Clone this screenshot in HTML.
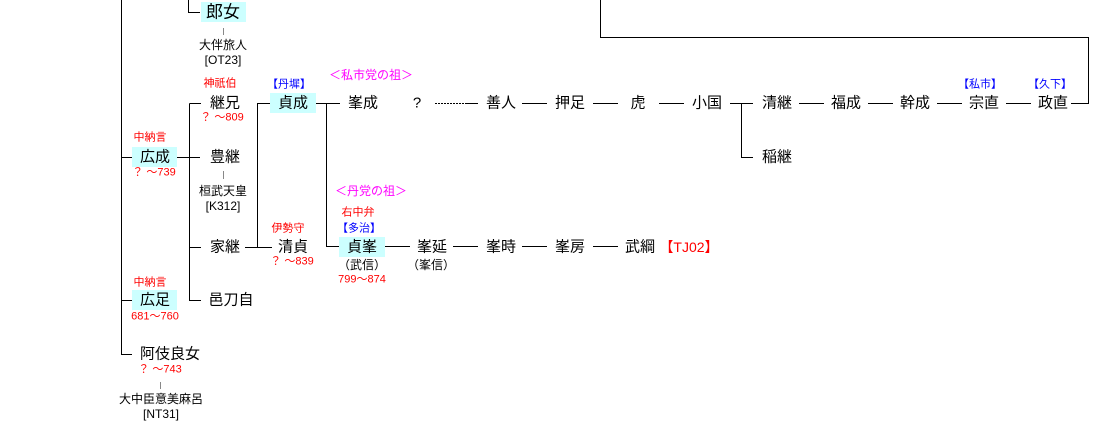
<!DOCTYPE html>
<html><head><meta charset="utf-8"><style>
body{margin:0;width:1094px;height:447px;background:#fff;position:relative;overflow:hidden;font-family:"Liberation Sans","Noto Sans CJK JP",sans-serif;}
.t{position:absolute;transform:translate(-50%,-50%);white-space:nowrap;font-size:15px;color:#000;line-height:1;}
.s{font-size:11px;}
.r{color:#f00;}.b{color:#00f;}.m{color:#f0f;}
.bx{position:absolute;background:#ccffff;}
svg{position:absolute;left:0;top:0;}
</style></head><body>
<div class="bx" style="left:201px;top:2px;width:45px;height:20px"></div>
<div class="bx" style="left:132px;top:147px;width:45px;height:20px"></div>
<div class="bx" style="left:132px;top:290px;width:45px;height:20px"></div>
<div class="bx" style="left:270px;top:93px;width:46px;height:20px"></div>
<div class="bx" style="left:339px;top:237px;width:46px;height:20px"></div>
<svg width="1094" height="447" stroke="#000" stroke-width="1" fill="none" shape-rendering="crispEdges">
<path d="M121.5 0V354.5H132M121.5 157.5H132M121.5 300.5H132"/>
<path d="M188.5 0V12.5H200"/>
<path d="M600.5 0V37.5H1088.5V103.5H1071"/>
<path d="M177 157.5H200M189.5 103.5V300.5H201M189.5 247.5H201M189.5 103.5H201"/>
<path d="M245 247.5H272M257.5 247.5V103.5H270"/>
<path d="M316 103.5H340M326.5 103.5V246.5H339"/>
<path d="M435 103.5H465" stroke-dasharray="2,1"/>
<path d="M465 103.5H478M522 103.5H547M593 103.5H618M659 103.5H684M730 103.5H753M741.5 103.5V157.5H753M799 103.5H824M868 103.5H893M937 103.5H962M1006 103.5H1031"/>
<path d="M385 246.5H410M453 246.5H478M522 246.5H547M593 246.5H618"/>
<path d="M223.5 28V35M223.5 171V179M160.5 382V389" stroke="#888"/>
</svg>
<div class="t" style="left:223px;top:12px;font-size:17px">郎女</div>
<div class="t s" style="left:223px;top:45px;font-size:12px">大伴旅人</div>
<div class="t s" style="left:223px;top:60px;font-size:12px">[OT23]</div>
<div class="t s r" style="left:220px;top:84px">神祇伯</div>
<div class="t" style="left:225px;top:103px">継兄</div>
<div class="t s r" style="left:222px;top:118px">？ ～809</div>
<div class="t s r" style="left:150px;top:138px">中納言</div>
<div class="t" style="left:155px;top:157px">広成</div>
<div class="t s r" style="left:154px;top:173px">？ ～739</div>
<div class="t" style="left:225px;top:157px">豊継</div>
<div class="t s" style="left:223px;top:191px;font-size:12px">桓武天皇</div>
<div class="t s" style="left:223px;top:206px;font-size:12px">[K312]</div>
<div class="t s b" style="left:289px;top:85px">【丹墀】</div>
<div class="t" style="left:293px;top:103px">貞成</div>
<div class="t s m" style="left:371px;top:75px;font-size:12px">＜私市党の祖＞</div>
<div class="t" style="left:363px;top:103px">峯成</div>
<div class="t" style="left:417px;top:103px">?</div>
<div class="t" style="left:501px;top:103px">善人</div>
<div class="t" style="left:570px;top:103px">押足</div>
<div class="t" style="left:638px;top:103px">虎</div>
<div class="t" style="left:707px;top:103px">小国</div>
<div class="t" style="left:777px;top:103px">清継</div>
<div class="t" style="left:777px;top:157px">稲継</div>
<div class="t" style="left:846px;top:103px">福成</div>
<div class="t" style="left:915px;top:103px">幹成</div>
<div class="t s b" style="left:980px;top:85px">【私市】</div>
<div class="t" style="left:984px;top:103px">宗直</div>
<div class="t s b" style="left:1050px;top:85px">【久下】</div>
<div class="t" style="left:1053px;top:103px">政直</div>
<div class="t s m" style="left:371px;top:191px;font-size:12px">＜丹党の祖＞</div>
<div class="t s r" style="left:358px;top:213px">右中弁</div>
<div class="t s b" style="left:359px;top:229px">【多治】</div>
<div class="t" style="left:362px;top:247px">貞峯</div>
<div class="t s" style="left:362px;top:265px;font-size:12px">（武信）</div>
<div class="t s r" style="left:362px;top:280px">799～874</div>
<div class="t" style="left:432px;top:247px">峯延</div>
<div class="t s" style="left:431px;top:265px;font-size:12px">（峯信）</div>
<div class="t" style="left:501px;top:247px">峯時</div>
<div class="t" style="left:570px;top:247px">峯房</div>
<div class="t" style="left:640px;top:247px">武綱</div>
<div class="t r" style="left:689px;top:247px;font-size:14px">【TJ02】</div>
<div class="t" style="left:225px;top:247px">家継</div>
<div class="t s r" style="left:288px;top:229px">伊勢守</div>
<div class="t" style="left:293px;top:247px">清貞</div>
<div class="t s r" style="left:292px;top:262px">？ ～839</div>
<div class="t s r" style="left:150px;top:283px">中納言</div>
<div class="t" style="left:155px;top:300px">広足</div>
<div class="t s r" style="left:155px;top:317px">681～760</div>
<div class="t" style="left:231px;top:300px">邑刀自</div>
<div class="t" style="left:170px;top:354px">阿伎良女</div>
<div class="t s r" style="left:160px;top:370px">？ ～743</div>
<div class="t s" style="left:161px;top:399px;font-size:12px">大中臣意美麻呂</div>
<div class="t s" style="left:161px;top:414px;font-size:12px">[NT31]</div>
</body></html>
